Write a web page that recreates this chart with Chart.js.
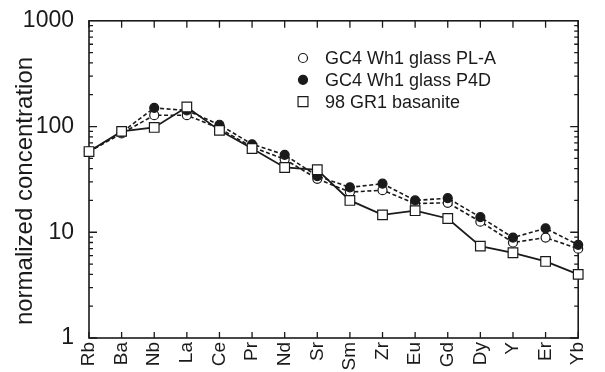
<!DOCTYPE html>
<html lang="en">
<head>
<meta charset="UTF-8">
<title>Normalized trace element pattern</title>
<script src="https://cdn.jsdelivr.net/npm/chart.js"></script>
<style>
  body { margin: 0; background: #fff; }
  #wrap { width: 605px; height: 372px; }
</style>
</head>
<body>
<div id="wrap"><canvas id="spider" width="605" height="372"></canvas></div>
<script>
const elements = ['Rb', 'Ba', 'Nb', 'La', 'Ce', 'Pr', 'Nd', 'Sr', 'Sm', 'Zr', 'Eu', 'Gd', 'Dy', 'Y', 'Er', 'Yb'];
const glassPLA = [58, 86, 128, 128, 96, 64, 49, 32, 24, 25, 18.7, 19, 12.6, 8.0, 8.9, 7.0];
const glassP4D = [58, 88, 150, 142, 104, 68, 54, 34, 26.6, 28.8, 20, 21, 13.9, 8.9, 10.9, 7.6];
const basanite = [58, 90, 98, 153, 92, 62, 41, 39, 20, 14.6, 16, 13.5, 7.4, 6.4, 5.3, 4.0];
const yTicks = [1, 10, 100, 1000];

const FONT = "'Liberation Sans', Arial, Helvetica, sans-serif";
const INK = '#1a1a1a';

// box round the plot with inward ticks on all four sides
const frameTicks = {
  id: 'frameTicks',
  beforeDatasetsDraw(chart) {
    const { ctx, chartArea: a, scales: { x, y } } = chart;
    ctx.save();
    ctx.strokeStyle = INK;
    ctx.lineWidth = 1.6;
    ctx.strokeRect(a.left, a.top, a.right - a.left, a.bottom - a.top);
    ctx.lineWidth = 1.3;
    ctx.beginPath();
    elements.forEach((_, i) => {
      const px = x.getPixelForValue(i);
      ctx.moveTo(px, a.bottom); ctx.lineTo(px, a.bottom - 6);
      ctx.moveTo(px, a.top); ctx.lineTo(px, a.top + 7);
    });
    for (let d = 0; d < yTicks.length - 1; d++) {
      for (let m = 1; m <= 9; m++) {
        const py = y.getPixelForValue(yTicks[d] * m);
        const len = m === 1 ? 8 : 4;
        ctx.moveTo(a.left, py); ctx.lineTo(a.left + len, py);
        ctx.moveTo(a.right, py); ctx.lineTo(a.right - len, py);
      }
    }
    ctx.stroke();

    // y axis title
    ctx.fillStyle = INK;
    ctx.font = '24px ' + FONT;
    ctx.textAlign = 'center';
    ctx.textBaseline = 'middle';
    ctx.translate(25, 191);
    ctx.rotate(-Math.PI / 2);
    ctx.fillText('normalized concentration', 0, 0);
    ctx.restore();
  }
};

// legend inside the upper right of the plot
const boxLegend = {
  id: 'boxLegend',
  afterDraw(chart) {
    const { ctx } = chart;
    ctx.save();
    ctx.font = '18px ' + FONT;
    ctx.textBaseline = 'middle';
    chart.data.datasets.forEach((ds, i) => {
      const yy = 58 + i * 21.8;
      ctx.fillStyle = ds.pointBackgroundColor;
      ctx.strokeStyle = INK;
      ctx.lineWidth = ds.pointBorderWidth;
      ctx.beginPath();
      if (ds.pointStyle === 'circle') {
        ctx.arc(303, yy, ds.legendRadius, 0, Math.PI * 2);
      } else {
        const h = ds.legendRadius * Math.SQRT1_2;
        ctx.rect(303 - h, yy - h, 2 * h, 2 * h);
      }
      ctx.fill();
      ctx.stroke();
      ctx.fillStyle = INK;
      ctx.fillText(ds.label, 325, yy + 1);
    });
    ctx.restore();
  }
};

const series = (label, data, fill, style, dashed, order, r) => ({
  label,
  data,
  order,
  borderColor: INK,
  borderWidth: dashed ? 1.6 : 1.8,
  borderDash: dashed ? [4, 2.5] : [],
  pointStyle: style,
  pointRadius: r,
  legendRadius: style === 'circle' ? 4.5 : 7,
  pointBorderWidth: 1.2,
  pointBorderColor: INK,
  pointBackgroundColor: fill,
  tension: 0,
  clip: false
});

new Chart(document.getElementById('spider'), {
  type: 'line',
  data: {
    labels: elements,
    datasets: [
      series('GC4 Wh1 glass PL-A', glassPLA, '#ffffff', 'circle', true, 2, 4.5),
      series('GC4 Wh1 glass P4D', glassP4D, INK, 'circle', true, 1, 4.5),
      series('98 GR1 basanite', basanite, '#ffffff', 'rect', false, 0, 6.8)
    ]
  },
  options: {
    responsive: false,
    animation: false,
    layout: { padding: { top: 18, right: 17, left: 0, bottom: 0 } },
    plugins: { legend: { display: false }, tooltip: { enabled: false } },
    scales: {
      x: {
        type: 'category',
        offset: false,
        grid: { display: false, drawTicks: false, tickLength: 0 },
        border: { display: false },
        ticks: {
          color: INK,
          font: { family: FONT, size: 19 },
          maxRotation: 90,
          minRotation: 90,
          padding: 4,
          autoSkip: false
        },
        afterFit(s) { s.height = 34; }
      },
      y: {
        type: 'logarithmic',
        min: 1,
        max: 1000,
        grid: { display: false },
        border: { display: false },
        ticks: {
          color: INK,
          font: { family: FONT, size: 23 },
          padding: 7,
          callback: v => String(v)
        },
        afterBuildTicks(s) { s.ticks = yTicks.map(v => ({ value: v })); },
        afterFit(s) { s.width = 89; }
      }
    }
  },
  plugins: [frameTicks, boxLegend]
});
</script>
</body>
</html>
